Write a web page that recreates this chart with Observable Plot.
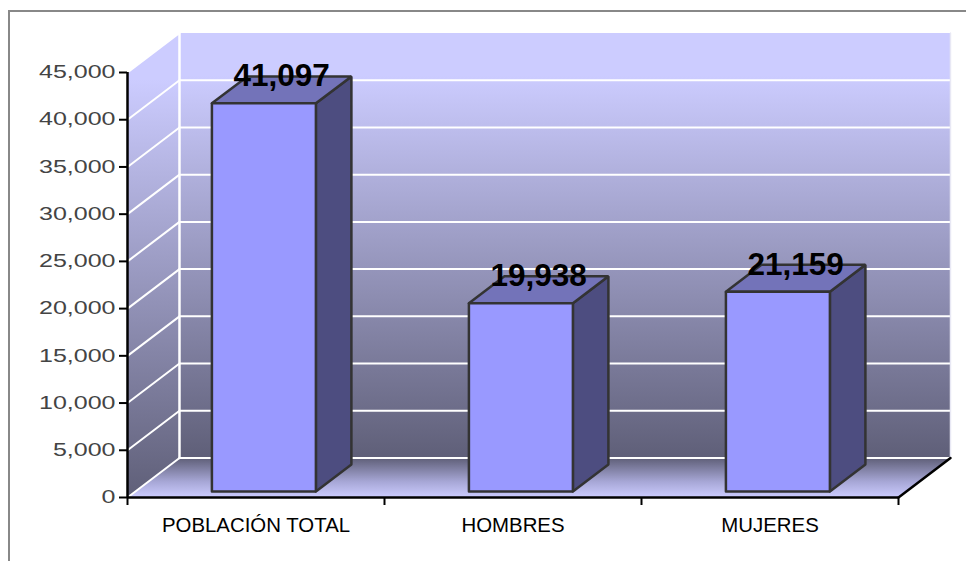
<!DOCTYPE html>
<html>
<head>
<meta charset="utf-8">
<script src="https://cdn.jsdelivr.net/npm/d3@7"></script>
<script src="https://cdn.jsdelivr.net/npm/@observablehq/plot@0.6"></script>
<style>
html,body{margin:0;padding:0;background:#fff;overflow:hidden;width:966px;height:561px}
#frame{position:absolute;left:8px;top:10px;right:-4px;bottom:-4px;border:2px solid #888}
#chart{position:absolute;left:0;top:0}
</style>
</head>
<body>
<div id="frame"></div>
<div id="chart"></div>
<script>
const categories = ["POBLACIÓN TOTAL", "HOMBRES", "MUJERES"];
const values = [41097, 19938, 21159];
const yTicks = [0, 5000, 10000, 15000, 20000, 25000, 30000, 35000, 40000, 45000];
const categorySlots = [0, 1, 2, 3];

// oblique projection of the chart's depth axis, in data units per full depth
const depthX = 0.2023;
const depthY = 4182;
const barHalf = 0.2023;
const barFront = 0.152;
const barBack = 0.835;

const pt = (x, y, d = 0) => ({x: x + d * depthX, y: y + d * depthY});
const poly = (id, corners) => corners.concat([corners[0]]).map(c => ({...c, id}));

const defs = () => {
  const d = d3.create("svg:defs");
  const grad = (id, stops) => {
    const g = d.append("linearGradient").attr("id", id).attr("x1", 0).attr("x2", 0).attr("y1", 0).attr("y2", 1);
    stops.forEach(([o, c]) => g.append("stop").attr("offset", o).attr("stop-color", c));
  };
  grad("wall", [[0, "#ccccff"], [0.1, "#ccccff"], [1, "#5f5f78"]]);
  grad("floor", [[0, "#5f5f78"], [0.6, "#a7a7d6"], [1, "#ccccff"]]);
  return d.node();
};

const backWall = poly("b", [pt(0, 0, 1), pt(3, 0, 1), pt(3, 45000, 1), pt(0, 45000, 1)]);
const leftWall = poly("l", [pt(0, 0, 0), pt(0, 0, 1), pt(0, 45000, 1), pt(0, 45000, 0)]);
const floor = poly("f", [pt(0, 0, 0), pt(3, 0, 0), pt(3, 0, 1), pt(0, 0, 1)]);

const gridBack = yTicks.slice(0, -1).flatMap(v => [{...pt(0, v, 1), id: v}, {...pt(3, v, 1), id: v}]);
const gridLeft = yTicks.flatMap(v => [{...pt(0, v, 0), id: v}, {...pt(0, v, 1), id: v}]);
const wallEdge = [pt(0, 0, 1), pt(0, 45000, 1)];
const rightEdge = [pt(3, 45000, 1), pt(3, 0, 1)];
const floorEdge = [pt(3, 0, 0), pt(3, 0, 1)];

const front = [], topFace = [], side = [];
values.forEach((v, i) => {
  const c = i + 0.5, a = c - barHalf, b = c + barHalf;
  front.push(...poly(i, [pt(a, 0, barFront), pt(b, 0, barFront), pt(b, v, barFront), pt(a, v, barFront)]));
  topFace.push(...poly(i, [pt(a, v, barFront), pt(b, v, barFront), pt(b, v, barBack), pt(a, v, barBack)]));
  side.push(...poly(i, [pt(b, 0, barFront), pt(b, 0, barBack), pt(b, v, barBack), pt(b, v, barFront)]));
});
const labels = values.map((v, i) => ({
  x: pt(i + 0.5, v, (barFront + barBack) / 2).x,
  y: pt(i + 0.5, v, barBack).y,
  text: d3.format(",")(v)
}));

const barLine = {x: "x", y: "y", z: "id", stroke: "#333", strokeWidth: 2.5, strokeLinejoin: "miter"};

const plot = Plot.plot({
  width: 966, height: 561,
  marginLeft: 127, marginRight: 68, marginTop: 72, marginBottom: 64,
  style: {background: "transparent", overflow: "visible"},
  x: {type: "linear", domain: [0, 3], label: null},
  y: {domain: [0, 45000], label: null},
  marks: [
    defs,
    Plot.line(backWall, {x: "x", y: "y", z: "id", fill: "url(#wall)", stroke: "none"}),
    Plot.line(leftWall, {x: "x", y: "y", z: "id", fill: "url(#wall)", stroke: "none"}),
    Plot.line(floor, {x: "x", y: "y", z: "id", fill: "url(#floor)", stroke: "none"}),
    Plot.line(gridBack, {x: "x", y: "y", z: "id", stroke: "#fff", strokeWidth: 2}),
    Plot.line(gridLeft, {x: "x", y: "y", z: "id", stroke: "#fff", strokeWidth: 2}),
    Plot.line(wallEdge, {x: "x", y: "y", stroke: "#fff", strokeWidth: 2.5}),
    Plot.line(rightEdge, {x: "x", y: "y", stroke: "#e8e8f4", strokeWidth: 1.5}),
    Plot.line(floorEdge, {x: "x", y: "y", stroke: "#000", strokeWidth: 2.5}),
    Plot.line(side, {...barLine, fill: "#4d4d80"}),
    Plot.line(topFace, {...barLine, fill: "#7373b9"}),
    Plot.line(front, {...barLine, fill: "#9999ff"}),
    Plot.ruleX([0], {y1: 0, y2: 45000, stroke: "#000", strokeWidth: 2.5}),
    Plot.ruleY([0], {x1: 0, x2: 3, stroke: "#000", strokeWidth: 2.5}),
    Plot.axisY({ticks: yTicks, tickFormat: d3.format(","), tickSize: 8, tickPadding: 4, stroke: "#000", strokeWidth: 2, fill: "#444", fontSize: 18, fontFamily: "Liberation Sans", label: null}),
    Plot.axisX({ticks: categorySlots, tickSize: 8, stroke: "#000", strokeWidth: 2, tickFormat: () => "", label: null}),
    Plot.axisX({ticks: categories.map((_, i) => i + 0.5), tickSize: 0, tickPadding: 20, tickFormat: d => categories[d - 0.5], fill: "#000", fontSize: 20, fontFamily: "Liberation Sans", label: null}),
    Plot.text(labels, {x: "x", y: "y", text: "text", fill: "#000", fontSize: 31.5, fontWeight: "bold", fontFamily: "Liberation Sans"})
  ]
});
document.getElementById("chart").appendChild(plot);
// the reference's tick font is a wide one: stretch the tick labels to match
const stretch = (filter, k) => d3.select(plot).selectAll("text").filter(filter).each(function () {
  this.setAttribute("textLength", this.getComputedTextLength() * k);
  this.setAttribute("lengthAdjust", "spacingAndGlyphs");
});
stretch(function () { return /^[\d,]+$/.test(this.textContent) && this.parentNode.getAttribute("font-size") === "18"; }, 1.39);
stretch(function () { return categories.includes(this.textContent); }, 1.02);
</script>
</body>
</html>
